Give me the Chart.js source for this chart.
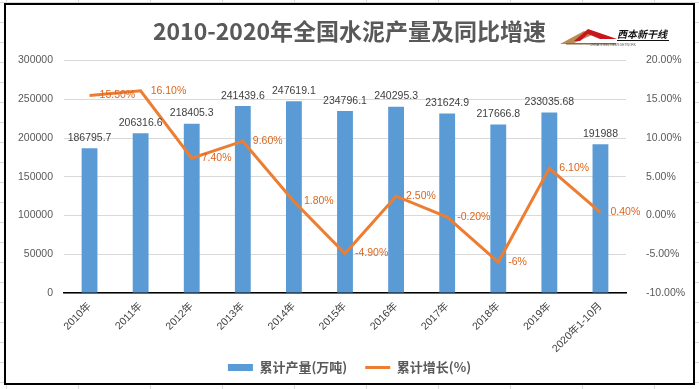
<!DOCTYPE html>
<html>
<head>
<meta charset="utf-8">
<script src="https://cdn.jsdelivr.net/npm/chart.js@4.4.0/dist/chart.umd.min.js"></script>
<style>
html, body { margin: 0; padding: 0; }
body {
  width: 699px; height: 389px; overflow: hidden; position: relative;
  background-color: #fff;
  background-image: linear-gradient(to right, #d9d9d9 1px, transparent 1px),
                    linear-gradient(to bottom, #d9d9d9 1px, transparent 1px);
  background-size: 72px 20px;
  background-position: 6px 2px;
}
#frame { position: absolute; left: 4px; top: 3px; width: 691px; height: 382px;
  box-sizing: border-box; border: 2px solid #000; background: #fff; }
#wrap { position: absolute; left: 0; top: 0; width: 699px; height: 389px; }
</style>
</head>
<body>
<div id="frame"></div>
<div id="wrap"><canvas id="cement"></canvas></div>
<script>
// categories
const years = ['2010年', '2011年', '2012年', '2013年', '2014年', '2015年',
  '2016年', '2017年', '2018年', '2019年', '2020年1-10月'];
// 累计产量(万吨)
const output = [186795.7, 206316.6, 218405.3, 241439.6, 247619.1, 234796.1,
  240295.3, 231624.9, 217666.8, 233035.68, 191988];
// 累计增长(%)
const growth = [15.5, 16.1, 7.4, 9.6, 1.8, -4.9, 2.5, -0.2, -6, 6.1, 0.4];
const growthLabels = ['15.50%', '16.10%', '7.40%', '9.60%', '1.80%', '-4.90%',
  '2.50%', '-0.20%', '-6%', '6.10%', '0.40%'];

const numFont = '"Liberation Sans", "Noto Sans CJK SC", sans-serif';
const cjkFont = '"Noto Sans CJK SC", sans-serif';

Chart.defaults.font.family = numFont;
Chart.defaults.color = '#595959';

// value labels for bars and line points
const valueLabels = {
  id: 'valueLabels',
  afterDatasetsDraw(chart) {
    const ctx = chart.ctx;
    ctx.save();
    ctx.font = '10.5px ' + numFont;
    ctx.fillStyle = '#404040';
    ctx.textAlign = 'center';
    ctx.textBaseline = 'bottom';
    chart.getDatasetMeta(0).data.forEach((bar, i) => {
      ctx.fillText(String(output[i]), bar.x, bar.y - 5);
    });
    ctx.fillStyle = '#D9661F';
    ctx.textAlign = 'left';
    ctx.textBaseline = 'middle';
    chart.getDatasetMeta(1).data.forEach((pt, i) => {
      ctx.fillText(growthLabels[i], pt.x + 10, pt.y);
    });
    ctx.restore();
  }
};

// pull the legend up a little so the rotated x labels get room
const legendNudge = {
  id: 'legendNudge',
  afterLayout(chart) {
    chart.legend.top -= 10;
    chart.legend.bottom -= 10;
  }
};

// small logo next to the title
const logo = {
  id: 'logo',
  afterDraw(chart) {
    const c = chart.ctx;
    c.save();
    c.fillStyle = '#B98C55';
    c.beginPath();
    c.moveTo(560, 44); c.lineTo(584, 31); c.lineTo(592, 35); c.lineTo(572, 44);
    c.closePath(); c.fill();
    c.fillStyle = '#C8161D';
    c.beginPath();
    c.moveTo(574, 41); c.lineTo(588, 29); c.lineTo(617, 39); c.lineTo(600, 39);
    c.lineTo(588, 34); c.lineTo(580, 41);
    c.closePath(); c.fill();
    c.fillStyle = '#8C6A3C';
    c.fillRect(566, 43, 50, 1.5);
    c.fillStyle = '#111';
    c.font = 'bold italic 10px ' + cjkFont;
    c.textBaseline = 'middle';
    c.fillText('西本新干线', 617, 34);
    c.fillRect(617, 40, 52, 1);
    c.font = '3px ' + numFont;
    c.fillStyle = '#555';
    c.fillText('CHINA STEEL NEWS NETWORK', 590, 45);
    c.restore();
  }
};

new Chart(document.getElementById('cement'), {
  type: 'bar',
  data: {
    labels: years,
    datasets: [{
      label: '累计产量(万吨)',
      data: output,
      backgroundColor: '#5B9BD5',
      borderWidth: 0,
      barPercentage: 0.31,
      categoryPercentage: 1,
      yAxisID: 'y',
      pointStyle: 'rect',
      order: 2
    }, {
      type: 'line',
      label: '累计增长(%)',
      data: growth,
      borderColor: '#ED7D31',
      backgroundColor: '#ED7D31',
      borderWidth: 3,
      pointRadius: 0,
      tension: 0,
      yAxisID: 'y1',
      pointStyle: 'line',
      order: 1
    }]
  },
  options: {
    responsive: true,
    maintainAspectRatio: false,
    animation: false,
    layout: { padding: { left: 0, right: 0, top: 0, bottom: -5 } },
    plugins: {
      title: {
        display: true,
        text: '2010-2020年全国水泥产量及同比增速',
        color: '#595959',
        font: { family: cjkFont, size: 23, weight: 'bold', lineHeight: 1.2 },
        padding: { top: 17, bottom: 16 }
      },
      legend: {
        position: 'bottom',
        labels: {
          usePointStyle: true,
          pointStyleWidth: 25,
          boxWidth: 25,
          boxHeight: 7,
          padding: 18,
          color: '#595959',
          font: { family: cjkFont, size: 13, weight: 'bold' },
          sort: (a, b) => a.datasetIndex - b.datasetIndex
        }
      },
      tooltip: { enabled: false }
    },
    scales: {
      x: {
        grid: { display: true, drawOnChartArea: false, drawTicks: false },
        border: { display: true, color: '#000', width: 1.5 },
        ticks: { color: '#404040', font: { size: 10.5 }, maxRotation: 45, minRotation: 45, padding: 7, autoSkip: false },
        afterFit: (s) => { s.height = 60; }
      },
      y: {
        position: 'left',
        min: 0, max: 300000,
        ticks: { stepSize: 50000, color: '#595959', font: { size: 10.5 }, padding: 11,
          callback: (v) => String(v) },
        grid: { color: '#d9d9d9', drawTicks: false },
        border: { display: false },
        afterFit: (s) => { s.width = 64; }
      },
      y1: {
        position: 'right',
        min: -10, max: 20,
        ticks: { stepSize: 5, color: '#595959', font: { size: 10.5 }, padding: 12,
          callback: (v) => v.toFixed(2) + '%' },
        grid: { display: false },
        border: { display: false },
        afterFit: (s) => { s.width = 73; }
      }
    }
  },
  plugins: [valueLabels, legendNudge, logo]
});
</script>
</body>
</html>
